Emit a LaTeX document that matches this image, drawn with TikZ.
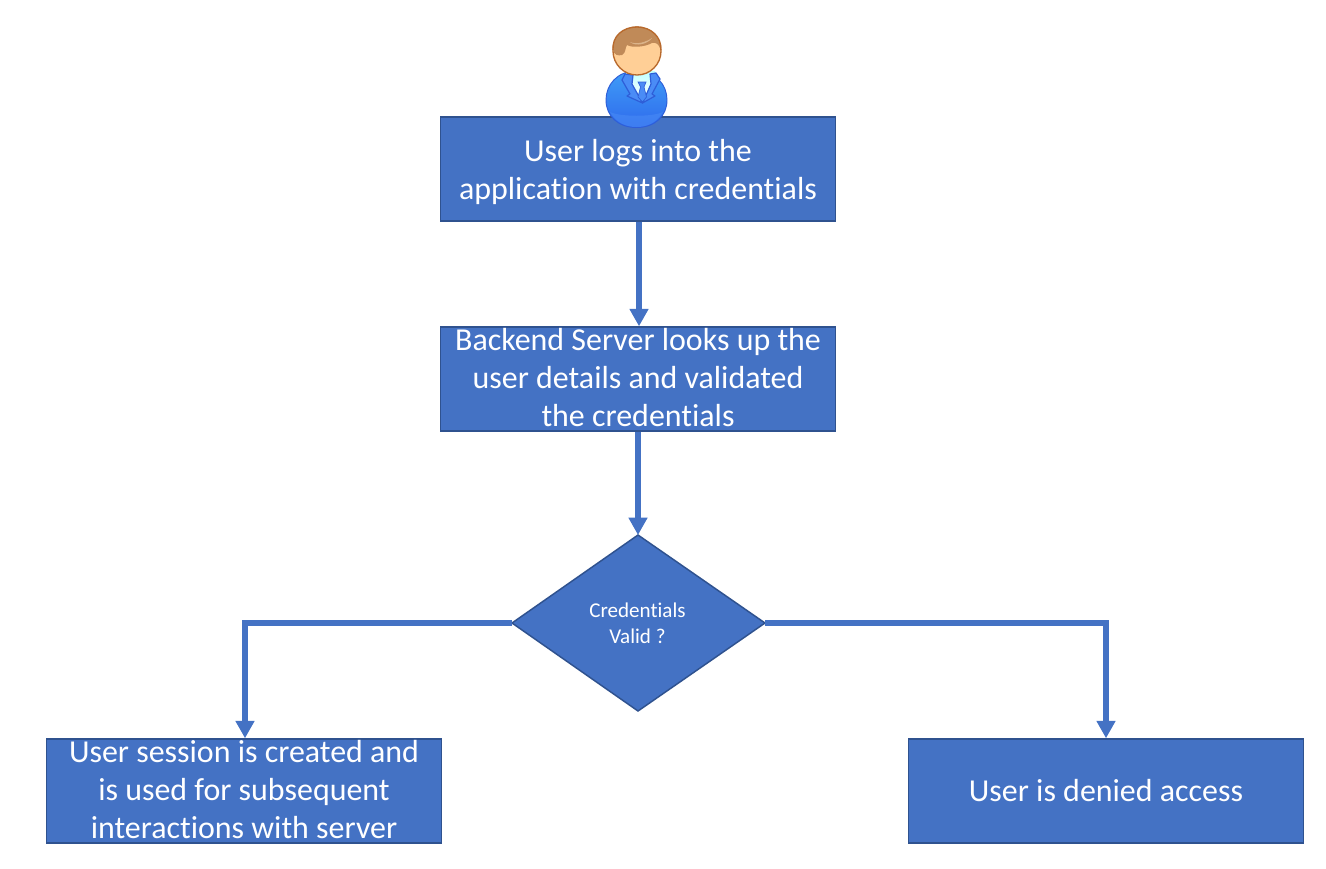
\documentclass[tikz,border=0pt]{standalone}
\usepackage{fontspec}
\setmainfont[Ligatures=NoCommon]{Carlito}
\usetikzlibrary{arrows.meta}
\definecolor{fillblue}{HTML}{4472C4}
\definecolor{edgeblue}{HTML}{2F528F}
\definecolor{coatblue}{HTML}{4A8CF6}
\definecolor{coatlow}{HTML}{2F6AEC}
\definecolor{coatline}{HTML}{2E5ED8}
\definecolor{skin}{HTML}{FFCF96}
\definecolor{hairdark}{HTML}{B8692C}
\definecolor{hairmid}{HTML}{C08A58}
\definecolor{hairlight}{HTML}{DBB48A}
\tikzset{
  box/.style={draw=edgeblue,line width=1.1pt,fill=fillblue,text=white,minimum width=296.5pt,minimum height=78pt,inner sep=0pt,font=\fontsize{23.95}{28.5}\selectfont},
  flow/.style={draw=fillblue,line width=4.3pt,-{Triangle[length=13pt,width=13.5pt]}},
  lapel/.style={draw=coatline,line width=0.9pt,fill=coatblue,line join=round},
}
\newcommand{\boxtext}[2]{\raisebox{#1}[0pt][0pt]{\begin{tabular}{@{}c@{}}#2\end{tabular}}}
\begin{document}
\begin{tikzpicture}[x=0.75pt,y=-0.75pt]
\useasboundingbox (0,0) rectangle (1326,868);
\fill[white] (0,0) rectangle (1326,868);
% nodes
\node[box] (login) at (638,169) {\boxtext{-9pt}{User logs into the\\application with credentials}};
\node[box] (lookup) at (638,379) {\boxtext{-7.75pt}{Backend Server looks up the\\user details and validated\\the credentials}};
\coordinate (dt) at (638,535);
\coordinate (dr) at (765,623);
\coordinate (db) at (638,711);
\coordinate (dl) at (512,623);
\draw[edgeblue,line width=1.1pt,fill=fillblue] (dt) -- (dr) -- (db) -- (dl) -- cycle;
\node[text=white,align=center,font=\fontsize{15.8}{19.5}\selectfont,inner sep=0pt] (valid) at (637.5,623) {Credentials\\Valid ?};
\node[box] (session) at (244,791) {\boxtext{-7.75pt}{User session is created and\\is used for subsequent\\interactions with server}};
\node[box] (denied) at (1106,791) {\boxtext{-8.25pt}{User is denied access}};
% user icon, on top of the first box
\path[draw=coatline,line width=0.7pt,top color=coatblue!85!cyan,bottom color=coatlow] (636.5,127.5) .. controls (618,127.5) and (606,116) .. (606,100) .. controls (606,85) and (617,71) .. (636.5,71) .. controls (656,71) and (667,85) .. (667,100) .. controls (667,116) and (655,127.5) .. (636.5,127.5) -- cycle;
\fill[coatblue,opacity=0.55] (610,112) .. controls (620,117) and (653,117) .. (663,112) .. controls (657,122) and (648,127) .. (636.5,127) .. controls (625,127) and (616,122) .. (610,112) -- cycle;
\shade[top color=cyan!25!white,bottom color=white] (626,71) -- (655,71) -- (655,86) -- (642.5,102) -- (630,86) -- cycle;
\draw[lapel] (625,74) -- (622,80) -- (630,94) -- (627,96) -- (642.5,103) -- (632,84) -- (633,75) -- cycle;
\draw[lapel] (656,73) -- (660,79) -- (652,94) -- (655,96) -- (642.5,103) -- (651,84) -- (650,74) -- cycle;
\draw[coatline,line width=0.5pt,fill=coatblue] (638,82) -- (646,82) -- (644,87) -- (646.5,97) -- (642.5,102) -- (638,97) -- (640.5,87) -- cycle;
\fill[skin,draw=hairdark,line width=1pt] (637,51) circle[radius=24];
\fill[hairmid] (613,50) .. controls (612,36) and (623,27) .. (637,27) .. controls (651,27) and (662,37) .. (660.7,50) .. controls (659,44) and (656,42) .. (652,43) .. controls (645,47) and (632,48) .. (627,45) .. controls (625,48) and (626,53) .. (622,55) .. controls (618,56) and (614,55) .. (613,50) -- cycle;
\draw[hairdark,line width=1pt] (613,50) .. controls (612,36) and (623,27) .. (637,27) .. controls (651,27) and (662,37) .. (660.7,50);
\fill[hairlight] (630,42) .. controls (637,45) and (646,42) .. (652,38) .. controls (648,44) and (636,47) .. (630,42) -- cycle;
% connectors
\draw[flow] ([xshift=0.75pt]login.south) -- ([xshift=0.75pt]lookup.north);
\draw[flow] (lookup.south) -- (dt);
\draw[flow] (dl) -- ([xshift=0.75pt]session.north |- dl) -- ([xshift=0.75pt]session.north);
\draw[flow] (dr) -- (denied.north |- dr) -- (denied.north);
\end{tikzpicture}
\end{document}
